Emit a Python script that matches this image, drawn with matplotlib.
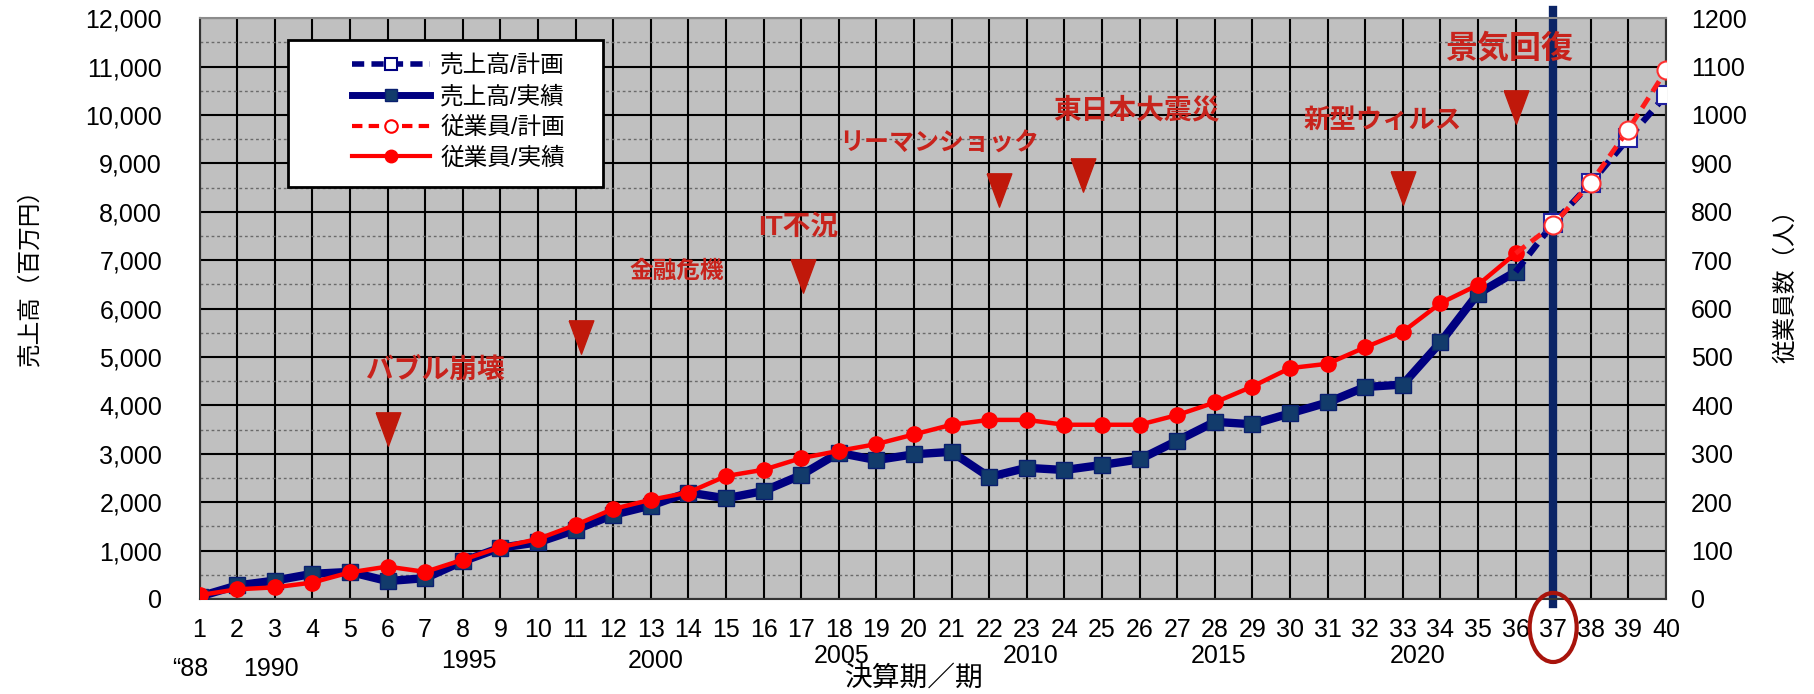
import matplotlib
matplotlib.use("Agg")
import matplotlib.pyplot as plt
import matplotlib.transforms as mtransforms
from matplotlib.patches import Ellipse, Rectangle
from matplotlib.lines import Line2D
from matplotlib.ticker import MultipleLocator, FuncFormatter

plt.rcParams['font.family'] = ['Liberation Sans', 'Noto Sans CJK JP']

# data
periods = list(range(1, 41))
actual_periods = list(range(1, 37))
plan_periods = [37, 38, 39, 40]

sales_actual = [50, 280, 380, 520, 560, 370, 430, 780, 1060, 1170,
                1430, 1740, 1930, 2200, 2080, 2230, 2560, 3020, 2870, 2990,
                3040, 2520, 2710, 2665, 2770, 2885, 3270, 3660, 3610, 3835,
                4060, 4380, 4430, 5300, 6310, 6760]
sales_plan = [7760, 8590, 9520, 10410]

emp_actual = [8, 20, 24, 34, 55, 67, 56, 81, 107, 124,
              153, 186, 205, 220, 254, 267, 291, 306, 320, 340,
              360, 370, 370, 360, 360, 360, 380, 406, 439, 477,
              486, 520, 552, 611, 649, 714]
emp_plan = [773, 860, 970, 1092]

year_labels = ['\u201c88', '1990', '1995', '2000', '2005', '2010', '2015', '2020']
year_pos = [0.76, 2.91, 8.17, 13.12, 18.08, 23.1, 28.1, 33.4]
year_row = [-0.121, -0.121, -0.106, -0.106, -0.099, -0.099, -0.099, -0.099]

events = ['バブル崩壊', '金融危機', 'IT不況', 'リーマンショック', '東日本大震災', '新型ウィルス', '景気回復']
event_x = [7.26, 13.69, 16.92, 20.68, 25.93, 32.46, 35.84]
event_y = [4730, 6777, 7665, 9400, 10083, 9897, 11363]
event_fs = [20, 17, 20, 18, 20, 19, 23]
arrow_x = [6.0, 11.15, 17.05, 22.25, 24.5, 33.0, 36.0]
arrow_y = [3510, 5410, 6670, 8450, 8760, 8490, 10170]

NAVY = '#000080'
RED = '#FF0000'
EVT = '#C8231C'

fig = plt.figure(figsize=(18.14, 6.94), dpi=100)
ax = fig.add_axes([0.1100, 0.1369, 0.8084, 0.8369])
ax.set_facecolor('#C0C0C0')

ax.set_xticks(periods)
ax.yaxis.set_major_locator(MultipleLocator(1000))
ax.yaxis.set_minor_locator(MultipleLocator(500))
ax.yaxis.set_major_formatter(FuncFormatter(lambda v, p: f'{int(v):,}'))
ax.grid(which='major', axis='both', color='black', lw=1.5)
ax.grid(which='minor', axis='y', color='#6a6a6a', lw=1.0, ls=(0, (2, 2)))
ax.set_axisbelow(True)
ax.tick_params(axis='y', which='both', length=0, pad=27, labelsize=18)
ax.tick_params(axis='x', length=0, pad=14, labelsize=18)
for side in ['left', 'bottom', 'right']:
    ax.spines[side].set_color('#333333')
    ax.spines[side].set_linewidth(1.5)
ax.spines['top'].set_color('#8c8c8c')
ax.spines['top'].set_linewidth(1.5)

# marker line at period 37
ax.axvline(37, ymin=-0.008, ymax=1.014, color='#0B2466', lw=6, clip_on=False, zorder=2.5)

# sales
ax.plot(actual_periods, sales_actual, color=NAVY, lw=6, marker='s', ms=12,
        mfc='#123B6B', mec='#0A1F70', zorder=3)
ax.plot([actual_periods[-1]] + plan_periods, [sales_actual[-1]] + sales_plan,
        color=NAVY, lw=4.5, ls=(0, (2.2, 1.3)), marker='s', ms=13, mfc='white',
        mec='#2020A0', mew=1.5, markevery=[1, 2, 3, 4], zorder=3)

# events
tri = [(-0.37, 0.5), (0.37, 0.5), (0, -0.5), (-0.37, 0.5)]
ax.plot(arrow_x, arrow_y, ls='none', marker=tri, ms=24, color='#C0180A', zorder=3)
for s, x, y, fs in zip(events, event_x, event_y, event_fs):
    ax.text(x, y, s, color=EVT, fontsize=fs, fontweight='bold', ha='center', va='center', zorder=3)

# employees
ax2 = ax.twinx()
ax2.set_ylim(0, 1200)
ax2.yaxis.set_major_locator(MultipleLocator(100))
ax2.tick_params(length=0, pad=18, labelsize=18)
for side in ax2.spines:
    ax2.spines[side].set_visible(False)
ax2.plot(actual_periods, emp_actual, color=RED, lw=3.2, marker='o', ms=11,
         mfc=RED, mec=RED, zorder=3)
ax2.plot([actual_periods[-1]] + plan_periods, [emp_actual[-1]] + emp_plan,
         color='#FF1A1A', lw=3.5, ls=(0, (2.5, 1.5)), marker='o', ms=13, mfc='white',
         mec='#FF3030', mew=1.5, markevery=[1, 2, 3, 4], zorder=3)

# legend
ax2.add_patch(Rectangle((0.0605, 0.7099), 0.2148, 0.2526, transform=ax2.transAxes,
                        facecolor='white', edgecolor='black', lw=2, zorder=5))
handles = [
    Line2D([], [], color=NAVY, lw=4, ls=(0, (2.2, 1.3)), marker='s', ms=9, mfc='white', mec=NAVY, mew=1.5),
    Line2D([], [], color=NAVY, lw=5, marker='s', ms=9, mfc='#123B6B', mec='#0A1F70'),
    Line2D([], [], color=RED, lw=3, ls=(0, (2.5, 1.5)), marker='o', ms=9, mfc='white', mec=RED, mew=1.5),
    Line2D([], [], color=RED, lw=3, marker='o', ms=9, mfc=RED, mec=RED),
]
labels = ['売上高/計画', '売上高/実績', '従業員/計画', '従業員/実績']
leg = ax2.legend(handles, labels, loc='upper left', bbox_to_anchor=(0.0957, 0.957),
                 frameon=False, borderpad=0, handlelength=3.3, handletextpad=0.45,
                 labelspacing=0.35, fontsize=17)
leg.set_zorder(6)

# year labels and axis titles
xtr = ax.get_xaxis_transform()
for s, x, y in zip(year_labels, year_pos, year_row):
    ax.text(x, y, s, transform=xtr, ha='center', va='center', fontsize=18)
ax.text(20.0, -0.137, '決算期／期', transform=xtr, ha='center', va='center', fontsize=20)
fig.text(30 / 1814, 1 - 272 / 694, '売上高（百万円）', rotation=90, ha='center', va='center', fontsize=17)
fig.text(1786 / 1814, 1 - 280 / 694, '従業員数（人）', rotation=90, ha='center', va='center', fontsize=17)

# circle around period 37
trans = mtransforms.blended_transform_factory(ax.transData, ax.transAxes)
ax.add_patch(Ellipse((37, -0.049), 1.25, 0.119, transform=trans, fill=False,
                     edgecolor='#A8140C', lw=3, clip_on=False, zorder=4))

ax.set_xlim(1, 40)
ax.set_ylim(0, 12000)

fig.savefig('out.png', dpi=100)
